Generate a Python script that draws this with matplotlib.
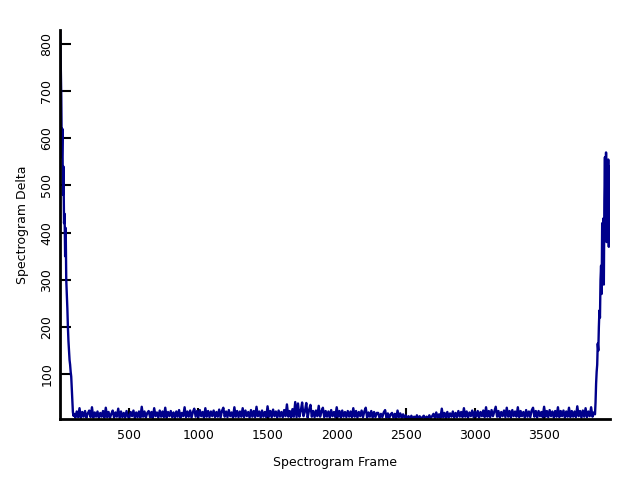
import numpy as np
import matplotlib
matplotlib.use("Agg")
import matplotlib.pyplot as plt

# decay at the start of the recording (frames 0..96, every 4 frames)
start_vals = [830, 760, 690, 560, 620, 480, 540, 420, 440, 350, 410, 300, 270,
              240, 200, 170, 150, 130, 120, 105, 95, 70, 45, 20, 12]

# noisy floor (frames 100..3860, every 10 frames)
mid_vals = [
    16, 8, 21, 9, 28, 7, 20, 10, 22, 8, 17, 23, 9, 30, 8, 19, 10, 21, 7, 18,
    10, 22, 8, 29, 9, 20, 7, 16, 23, 8, 19, 10, 27, 7, 21, 9, 18, 8, 22, 10,
    8, 20, 11, 23, 7, 19, 9, 21, 8, 31, 10, 21, 8, 18, 22, 9, 20, 7, 28, 11,
    19, 8, 23, 10, 21, 9, 29, 8, 20, 11, 22, 9, 19, 7, 21, 10, 24, 8, 18, 11,
    30, 9, 21, 10, 23, 8, 20, 27, 10, 22, 9, 24, 11, 20, 8, 28, 10, 22, 9, 21,
    11, 23, 9, 20, 10, 25, 8, 22, 29, 10, 21, 9, 24, 11, 19, 8, 30, 10, 22, 9,
    21, 10, 28, 9, 23, 11, 20, 8, 24, 10, 22, 9, 31, 11, 21, 8, 23, 10, 20, 9,
    32, 10, 22, 9, 25, 11, 21, 8, 23, 10, 20, 9, 24, 11, 36, 10, 22, 8, 26, 10,
    41, 9, 38, 10, 22, 40, 11, 21, 39, 8, 24, 35, 10, 22, 9, 23, 11, 33, 10, 21,
    29, 9, 22, 10, 21, 8, 24, 11, 20, 9, 30, 10, 22, 8, 23, 10, 20, 9, 22, 10,
    21, 9, 28, 10, 22, 8, 20, 11, 23, 9, 21, 29, 8, 19, 10, 22, 8, 20, 9, 18,
    18, 7, 16, 9, 19, 24, 8, 17, 7, 15, 18, 8, 16, 6, 23, 9, 17, 7, 15, 8,
    13, 5, 11, 4, 12, 5, 10, 6, 13, 4, 11, 5, 9, 12, 5, 10, 6, 13, 7, 11,
    16, 7, 19, 8, 15, 7, 27, 9, 18, 7, 20, 8, 17, 10, 21, 8, 18, 9, 22, 10,
    20, 9, 28, 10, 21, 8, 19, 11, 23, 9, 21, 10, 22, 8, 20, 11, 23, 9, 30, 10,
    22, 9, 24, 11, 21, 31, 10, 22, 8, 20, 11, 23, 9, 29, 10, 22, 8, 24, 11, 21,
    10, 30, 9, 22, 11, 20, 8, 24, 10, 21, 9, 23, 29, 10, 22, 8, 22, 11, 20, 9,
    31, 10, 22, 9, 24, 11, 21, 8, 22, 10, 30, 9, 22, 11, 23, 8, 21, 10, 29, 9,
    22, 10, 21, 9, 32, 11, 22, 8, 23, 10, 28, 9, 21, 11, 30, 10, 19,
]

# rise at the end (frames 3868..3976, every 4 frames)
end_vals = [15, 40, 80, 105, 120, 165, 150, 200, 235, 220, 300, 330, 270, 420,
            380, 430, 290, 470, 560, 420, 570, 380, 550, 450, 555, 370, 540, 500]

frames = np.concatenate([
    np.arange(len(start_vals)) * 4,
    100 + np.arange(len(mid_vals)) * 10,
    3868 + np.arange(len(end_vals)) * 4,
])
delta = np.array(start_vals + mid_vals + end_vals, dtype=float)

fig = plt.figure(figsize=(6.4, 4.8), dpi=100)
ax = fig.add_axes([0.094, 0.127, 0.859, 0.811])

ax.plot(frames, delta, color="#00008B", linewidth=1.7)

ax.set_xlim(0, frames[-1])
ax.set_ylim(5, delta.max())
ax.set_xticks([500, 1000, 1500, 2000, 2500, 3000, 3500])
ax.set_yticks([100, 200, 300, 400, 500, 600, 700, 800])

for side in ("top", "right"):
    ax.spines[side].set_visible(False)
for side in ("left", "bottom"):
    ax.spines[side].set_linewidth(2)

ax.tick_params(direction="in", length=8, width=1.5, labelsize=9, colors="black")
ax.tick_params(axis="x", pad=7)
ax.tick_params(axis="y", labelrotation=90, pad=5)
for lbl in ax.get_yticklabels():
    lbl.set_verticalalignment("center")

ax.set_xlabel("Spectrogram Frame", fontsize=9, labelpad=10)
ax.set_ylabel("Spectrogram Delta", fontsize=9, labelpad=8)

fig.savefig("out.png", dpi=100)
